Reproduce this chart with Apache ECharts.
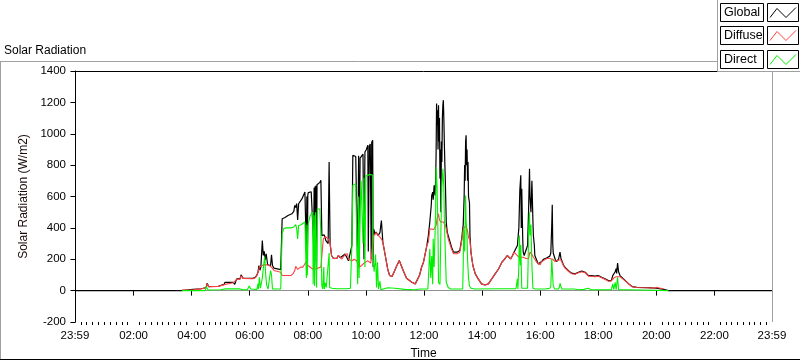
<!DOCTYPE html>
<html><head><meta charset="utf-8">
<script src="https://cdn.jsdelivr.net/npm/echarts@6/dist/echarts.min.js"></script>
<style>html,body{margin:0;padding:0;background:#fff}#c{width:800px;height:361px}</style>
</head><body><div id="c"></div>
<script>
// x axis: minutes since midnight (23:59 of previous day = -1)
const xTickValues = [-1,120,240,360,480,600,720,840,960,1080,1200,1320,1439];
const xTickLabels = ['23:59','02:00','04:00','06:00','08:00','10:00','12:00','14:00','16:00','18:00','20:00','22:00','23:59'];
const seriesNames = ['Global','Diffuse','Direct'];

const globalData = [[-1,0],[218,0],[220,5],[243,8],[245,11],[260,12],[262,17],[270,20],[272,47],[275,26],[295,28],[297,38],[307,40],[309,53],[326,53],[329,40],[333,75],[340,75],[342,100],[346,80],[350,75],[367,78],[372,86],[375,100],[377,117],[379,160],[381,130],[383,150],[386,320],[388,224],[390,250],[392,195],[394,235],[397,165],[399,175],[403,160],[405,228],[407,160],[410,143],[414,134],[424,134],[426,145],[427,458],[432,465],[439,479],[447,490],[451,505],[453,543],[455,530],[457,555],[459,450],[461,554],[465,565],[468,586],[471,596],[474,628],[476,620],[477,250],[478,600],[479,202],[480,610],[481,625],[484,620],[487,630],[490,625],[491,640],[492,300],[493,655],[494,180],[495,665],[496,250],[497,670],[498,140],[499,675],[502,677],[505,690],[507,703],[509,351],[511,340],[514,355],[517,320],[520,310],[522,300],[524,820],[526,300],[529,224],[533,205],[537,210],[540,205],[543,224],[547,210],[550,200],[557,234],[560,230],[564,190],[568,200],[571,288],[573,863],[576,860],[579,855],[581,850],[583,150],[585,860],[586,150],[588,845],[591,841],[594,870],[596,200],[598,884],[601,900],[604,927],[605,250],[607,920],[609,935],[611,200],[612,945],[614,958],[615,150],[616,394],[619,360],[621,373],[625,351],[629,370],[632,447],[635,309],[640,224],[645,138],[649,96],[654,90],[658,117],[664,160],[669,192],[672,180],[677,128],[684,79],[695,53],[702,43],[706,50],[711,100],[715,149],[719,181],[726,288],[729,351],[732,437],[735,543],[736,607],[738,628],[739,580],[741,671],[743,607],[744,700],[745,863],[746,1193],[747,1054],[748,1150],[749,900],[750,1182],[751,950],[752,1100],[753,714],[754,900],[755,500],[756,950],[757,820],[758,1100],[759,1182],[760,1214],[761,1100],[762,950],[763,820],[764,714],[766,437],[768,373],[772,330],[777,277],[781,245],[788,245],[794,256],[798,330],[800,394],[801,415],[803,607],[804,800],[805,700],[806,950],[807,990],[808,800],[809,900],[810,700],[811,820],[812,600],[814,560],[815,351],[817,245],[821,160],[826,107],[832,75],[839,43],[846,36],[853,43],[860,75],[867,107],[874,138],[881,181],[887,202],[892,224],[896,228],[899,202],[903,224],[906,245],[910,250],[913,288],[916,400],[918,639],[920,735],[921,400],[922,650],[924,330],[925,245],[927,224],[931,224],[934,288],[936,500],[938,777],[939,600],[941,500],[943,700],[945,450],[946,351],[948,288],[949,224],[953,213],[956,170],[960,165],[963,185],[967,200],[974,210],[980,220],[982,240],[984,420],[985,548],[986,300],[987,240],[991,200],[994,185],[998,200],[1001,245],[1003,205],[1006,195],[1008,165],[1011,149],[1018,128],[1025,111],[1032,107],[1039,117],[1046,124],[1053,117],[1060,96],[1066,96],[1073,92],[1080,96],[1087,85],[1094,75],[1101,64],[1107,64],[1110,96],[1112,105],[1115,120],[1117,140],[1118,110],[1120,175],[1122,120],[1125,96],[1129,85],[1136,64],[1143,43],[1150,26],[1160,21],[1181,19],[1201,15],[1215,8],[1225,0],[1439,0]];

const diffuseData = [[220,3],[243,6],[245,10],[260,11],[262,15],[270,18],[272,45],[275,25],[295,27],[297,36],[307,38],[309,50],[326,50],[329,38],[333,72],[340,73],[342,95],[346,78],[350,73],[367,76],[372,84],[375,100],[377,117],[380,150],[383,160],[388,164],[395,165],[400,160],[405,150],[410,128],[414,117],[424,117],[427,96],[435,96],[445,96],[450,110],[453,128],[455,155],[457,150],[459,135],[461,140],[465,150],[470,150],[474,160],[478,192],[480,160],[483,150],[490,138],[497,138],[502,145],[507,150],[509,155],[512,330],[516,345],[520,350],[522,330],[526,310],[529,224],[533,205],[540,205],[543,224],[550,200],[557,230],[562,235],[564,200],[571,190],[576,200],[581,190],[586,149],[591,160],[598,180],[604,190],[610,175],[614,185],[616,351],[621,370],[625,355],[629,360],[632,330],[635,309],[640,224],[645,138],[649,96],[654,90],[658,117],[664,160],[669,190],[672,178],[677,128],[684,79],[695,53],[702,43],[706,50],[711,98],[715,149],[719,181],[726,288],[729,309],[732,394],[736,400],[740,390],[745,415],[747,458],[750,490],[752,450],[755,437],[760,437],[762,440],[764,420],[766,394],[770,330],[777,265],[781,235],[788,235],[794,245],[798,320],[801,394],[803,400],[807,415],[810,380],[812,340],[815,320],[817,245],[821,160],[826,107],[832,75],[839,43],[846,36],[853,43],[860,75],[867,107],[874,138],[881,181],[887,202],[892,224],[896,228],[899,202],[903,224],[906,245],[910,245],[916,213],[920,210],[925,213],[931,205],[936,205],[939,245],[943,230],[946,213],[949,200],[953,180],[956,170],[960,165],[963,185],[967,195],[974,205],[980,205],[984,213],[986,200],[991,185],[994,175],[998,195],[1001,205],[1003,195],[1006,185],[1008,160],[1011,145],[1018,125],[1025,108],[1032,104],[1039,114],[1046,120],[1053,114],[1060,92],[1066,92],[1073,88],[1080,92],[1087,82],[1094,72],[1101,60],[1107,62],[1112,80],[1117,88],[1120,90],[1125,88],[1129,80],[1136,62],[1143,42],[1150,25],[1160,20],[1181,18],[1195,15],[1200,22],[1204,14],[1215,10]];

const directData = [[220,0],[268,0],[270,26],[274,4],[300,6],[310,11],[340,11],[343,8],[346,5],[355,6],[359,30],[362,10],[375,8],[377,43],[378,10],[380,85],[382,15],[386,80],[389,170],[391,217],[393,100],[395,35],[398,10],[400,60],[403,128],[405,100],[407,10],[410,11],[424,11],[426,20],[427,362],[430,394],[435,400],[445,400],[451,406],[455,420],[457,395],[459,330],[461,415],[466,420],[470,426],[474,437],[476,426],[477,80],[478,420],[479,96],[480,280],[481,430],[485,479],[488,490],[490,500],[491,40],[493,480],[494,30],[496,500],[498,20],[500,520],[502,532],[505,520],[507,351],[509,30],[511,10],[513,150],[514,10],[516,50],[518,20],[522,15],[524,240],[525,20],[530,15],[540,12],[560,12],[568,15],[571,288],[573,671],[576,680],[579,682],[581,671],[583,40],[585,600],[586,80],[588,500],[590,700],[594,300],[596,720],[598,150],[600,730],[604,741],[609,741],[612,741],[614,735],[615,200],[617,120],[620,230],[622,20],[624,180],[626,10],[629,60],[631,5],[635,10],[645,18],[660,15],[680,8],[700,6],[712,10],[728,11],[730,130],[732,266],[734,80],[736,220],[738,40],[739,330],[741,150],[744,500],[745,788],[747,660],[749,350],[750,53],[753,40],[755,394],[757,660],[759,777],[761,660],[762,470],[764,250],[766,53],[770,20],[775,10],[800,10],[801,150],[802,394],[804,250],[806,607],[807,450],[809,330],[810,200],[812,80],[814,30],[817,15],[825,10],[880,12],[910,12],[913,75],[914,10],[916,160],[917,351],[919,160],[920,290],[922,15],[925,10],[934,15],[935,160],[936,351],[938,500],[939,351],[941,420],[943,160],[945,15],[950,10],[970,10],[980,15],[982,30],[984,202],[985,213],[987,32],[990,10],[998,10],[1000,25],[1001,47],[1003,25],[1005,10],[1030,10],[1040,6],[1050,8],[1060,15],[1065,5],[1075,6],[1107,6],[1110,43],[1112,6],[1115,53],[1117,6],[1120,85],[1122,6],[1140,6],[1143,0],[1225,0]];

const seriesColors = ['#000000','#ff4040','#00f000'];
const FONT = 'Liberation Sans';

// minor ticks: 9 per major interval
const minorTicks = [];
for (let k = 0; k < xTickValues.length - 1; k++) {
  const a = xTickValues[k], b = xTickValues[k + 1];
  for (let j = 1; j < 10; j++) minorTicks.push(a + (b - a) * j / 10);
}

const chart = echarts.init(document.getElementById('c'), null, {renderer: 'canvas'});
const GL = 75, GR = 772, GT = 71, GB = 322;

const legendGraphics = [];
legendGraphics.push({type:'rect', shape:{x:717.5,y:-1,width:84,height:72.5}, style:{fill:'#fff',stroke:'#a0a0a0',lineWidth:1}, z:100});
const rowTops = [3.5, 26.5, 50.5];
seriesNames.forEach((n, i) => {
  const y0 = rowTops[i];
  legendGraphics.push({type:'rect', shape:{x:720.5,y:y0,width:43,height:18}, style:{fill:'#fff',stroke:'#000',lineWidth:1}, z:101});
  legendGraphics.push({type:'text', x:724, y:y0+9.5, style:{text:n, font:'12.5px "'+FONT+'"', fill:'#000', textVerticalAlign:'middle'}, z:102});
  legendGraphics.push({type:'rect', shape:{x:767.5,y:y0,width:31,height:18}, style:{fill:'#fff',stroke:'#000',lineWidth:1}, z:101});
  legendGraphics.push({type:'polyline', shape:{points:[[770,y0+14],[777,y0+5],[786,y0+14],[796,y0+4]]}, style:{stroke:seriesColors[i],lineWidth:1,fill:null}, z:102});
});

chart.setOption({
  animation: false,
  backgroundColor: '#ffffff',
  grid: {left: GL, right: 800 - GR, top: GT, bottom: 361 - GB, containLabel: false, outerBoundsMode: 'none'},
  xAxis: [{
    type: 'value', min: -1, max: 1439,
    name: 'Time', nameLocation: 'middle', nameGap: 26,
    nameTextStyle: {fontFamily: FONT, fontSize: 12, color: '#000'},
    axisLine: {show: true, lineStyle: {color: '#909090', width: 1}},
    axisTick: {show: true, customValues: xTickValues, length: 5, lineStyle: {color: '#000', width: 1}},
    axisLabel: {show: true, customValues: xTickValues, margin: 8, fontFamily: FONT, fontSize: 11.5, color: '#000',
      formatter: v => { const i = xTickValues.indexOf(v); return i >= 0 ? xTickLabels[i] : ''; }},
    splitLine: {show: false}
  }, {
    type: 'value', min: -1, max: 1439, position: 'bottom',
    axisLine: {show: false},
    axisTick: {show: true, customValues: minorTicks, length: 3, lineStyle: {color: '#000', width: 1}},
    axisLabel: {show: false}, splitLine: {show: false}
  }],
  yAxis: {
    type: 'value', min: -200, max: 1400, interval: 200,
    name: 'Solar Radiation (W/m2)', nameLocation: 'middle', nameGap: 41, nameRotate: 90,
    nameTextStyle: {fontFamily: FONT, fontSize: 12, color: '#1a0a0a'},
    axisLine: {show: true, lineStyle: {color: '#000', width: 1}},
    axisTick: {show: true, length: 5, lineStyle: {color: '#000'}},
    axisLabel: {margin: 9, fontFamily: FONT, fontSize: 11.5, color: '#000', formatter: v => String(v)},
    splitLine: {show: false}
  },
  series: [
    {name: seriesNames[0], type: 'line', data: globalData, showSymbol: false, symbol: 'none', lineStyle: {color: seriesColors[0], width: 1.2}, z: 2},
    {name: seriesNames[1], type: 'line', data: diffuseData, showSymbol: false, symbol: 'none', lineStyle: {color: seriesColors[1], width: 1.1}, z: 3},
    {name: seriesNames[2], type: 'line', data: directData, showSymbol: false, symbol: 'none', lineStyle: {color: seriesColors[2], width: 1.1}, z: 4}
  ],
  graphic: [
    {type:'text', x:4, y:51, style:{text:'Solar Radiation', font:'12px "'+FONT+'"', fill:'#000', textVerticalAlign:'middle'}},
    {type:'line', shape:{x1:0,y1:61.5,x2:717,y2:61.5}, style:{stroke:'#a0a0a0',lineWidth:1}},
    {type:'line', shape:{x1:0.5,y1:61,x2:0.5,y2:359}, style:{stroke:'#a0a0a0',lineWidth:1}},
    {type:'line', shape:{x1:0,y1:359.5,x2:800,y2:359.5}, style:{stroke:'#000',lineWidth:1}},
    {type:'line', shape:{x1:GL,y1:GT+0.5,x2:GR,y2:GT+0.5}, style:{stroke:'#000',lineWidth:1}, z:50},
    {type:'line', shape:{x1:GR+0.5,y1:GT,x2:GR+0.5,y2:GB}, style:{stroke:'#a0a0a0',lineWidth:1}, z:50},
    ...legendGraphics
  ]
});
</script></body></html>
